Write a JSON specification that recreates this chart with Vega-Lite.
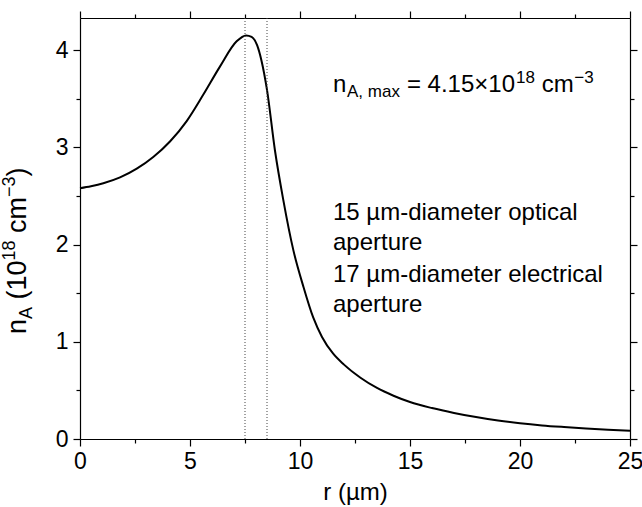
{
  "$schema": "https://vega.github.io/schema/vega-lite/v6.json",
  "width": 550,
  "height": 421,
  "autosize": {"type": "none"},
  "padding": {"left": 80, "top": 18, "right": 12, "bottom": 68},
  "background": "white",
  "config": {
    "view": {"stroke": null},
    "font": "Liberation Sans",
    "axis": {
      "domainColor": "black", "domainWidth": 1.2, "ticks": true, "tickColor": "black", "tickWidth": 1.2, "tickOpacity": 1,
      "labelColor": "black", "labelFont": "Liberation Sans", "labelFontSize": 23,
      "titleFont": "Liberation Sans", "titleFontSize": 24, "titleFontWeight": "normal", "titleColor": "black",
      "grid": false
    }
  },
  "datasets": {
    "curve": [
      {"r": 0, "v": 2.58}, {"r": 0.5, "v": 2.6}, {"r": 1.06, "v": 2.63}, {"r": 1.82, "v": 2.69},
      {"r": 2.58, "v": 2.78}, {"r": 3.33, "v": 2.9}, {"r": 4.09, "v": 3.06}, {"r": 4.85, "v": 3.27},
      {"r": 5.6, "v": 3.54}, {"r": 6.36, "v": 3.83}, {"r": 7.12, "v": 4.09}, {"r": 7.55, "v": 4.15},
      {"r": 7.8, "v": 4.135}, {"r": 8.05, "v": 4.05}, {"r": 8.25, "v": 3.89}, {"r": 8.5, "v": 3.59},
      {"r": 8.86, "v": 2.97}, {"r": 9.24, "v": 2.46}, {"r": 9.7, "v": 1.94}, {"r": 10.15, "v": 1.57},
      {"r": 10.6, "v": 1.25}, {"r": 11.0, "v": 1.05}, {"r": 11.5, "v": 0.88}, {"r": 12.0, "v": 0.765},
      {"r": 12.75, "v": 0.63}, {"r": 13.5, "v": 0.525}, {"r": 14.25, "v": 0.445}, {"r": 15, "v": 0.38},
      {"r": 16, "v": 0.318}, {"r": 17, "v": 0.268}, {"r": 18, "v": 0.226}, {"r": 19, "v": 0.19},
      {"r": 20, "v": 0.162}, {"r": 21, "v": 0.14}, {"r": 22, "v": 0.123}, {"r": 23, "v": 0.108},
      {"r": 24, "v": 0.096}, {"r": 25, "v": 0.086}
    ],
    "apertures": [{"r": 7.5}, {"r": 8.5}],
    "mainText": [
      {"r": 11.5, "v": 3.569, "t": "n"},
      {"r": 14.86, "v": 3.569, "t": "= 4.15×10"},
      {"r": 20.99, "v": 3.569, "t": "cm"}
    ],
    "smallText": [
      {"r": 12.136, "v": 3.517, "t": "A, max"},
      {"r": 19.82, "v": 3.661, "t": "18"},
      {"r": 22.47, "v": 3.661, "t": "−3"}
    ],
    "notes": [
      {"r": 11.5, "v": 2.252, "t": "15 µm-diameter optical\naperture"},
      {"r": 11.5, "v": 1.615, "t": "17 µm-diameter electrical\naperture"}
    ],
    "ytitleMain": [
      {"r": -2.455, "v": 1.08, "t": "n"},
      {"r": -2.455, "v": 1.435, "t": "(10"},
      {"r": -2.455, "v": 2.119, "t": "cm"},
      {"r": -2.455, "v": 2.7, "t": ")"}
    ],
    "ytitleSmall": [
      {"r": -2.18, "v": 1.234, "t": "A"},
      {"r": -2.955, "v": 1.836, "t": "18"},
      {"r": -2.955, "v": 2.489, "t": "−3"}
    ]
  },
  "resolve": {"axis": {"x": "independent", "y": "independent"}},
  "layer": [
    {
      "data": {"name": "curve"},
      "mark": {"type": "line", "color": "black", "strokeWidth": 2, "interpolate": "monotone"},
      "encoding": {
        "x": {"field": "r", "type": "quantitative", "scale": {"domain": [0, 25], "nice": false},
          "axis": {"orient": "bottom", "values": [0, 5, 10, 15, 20, 25], "format": "d",
            "ticks": true, "tickSize": 7, "labelPadding": 4, "title": "r (µm)", "titlePadding": 7, "labelFlush": false}},
        "y": {"field": "v", "type": "quantitative", "scale": {"domain": [0, 4.33], "nice": false},
          "axis": {"orient": "left", "values": [0, 1, 2, 3, 4], "format": "d",
            "ticks": true, "tickSize": 7, "labelPadding": 5, "title": null}}
      }
    },
    {
      "data": {"name": "apertures"},
      "mark": {"type": "rule", "color": "#444", "strokeWidth": 1, "strokeDash": [1, 2]},
      "encoding": {
        "x": {"field": "r", "type": "quantitative", "scale": {"domain": [0, 25], "nice": false},
          "axis": {"orient": "top", "values": [0, 5, 10, 15, 20, 25], "labels": false, "title": null, "ticks": true, "tickSize": 7}}
      }
    },
    {
      "data": {"name": "mainText"},
      "mark": {"type": "text", "fontSize": 24, "align": "left", "baseline": "alphabetic", "color": "black", "font": "Liberation Sans"},
      "encoding": {
        "x": {"field": "r", "type": "quantitative", "scale": {"domain": [0, 25], "nice": false}, "axis": null},
        "y": {"field": "v", "type": "quantitative", "scale": {"domain": [0, 4.33], "nice": false},
          "axis": {"orient": "right", "values": [0, 1, 2, 3, 4], "labels": false, "title": null, "ticks": true, "tickSize": 7}},
        "text": {"field": "t"}
      }
    },
    {
      "data": {"name": "smallText"},
      "mark": {"type": "text", "fontSize": 17, "align": "left", "baseline": "alphabetic", "color": "black", "font": "Liberation Sans"},
      "encoding": {
        "x": {"field": "r", "type": "quantitative", "scale": {"domain": [0, 25], "nice": false},
          "axis": {"orient": "bottom", "values": [2.5, 7.5, 12.5, 17.5, 22.5], "labels": false, "domain": false, "title": null, "ticks": true, "tickSize": 4}},
        "y": {"field": "v", "type": "quantitative", "scale": {"domain": [0, 4.33], "nice": false},
          "axis": {"orient": "left", "values": [0.5, 1.5, 2.5, 3.5], "labels": false, "domain": false, "title": null, "ticks": true, "tickSize": 4}},
        "text": {"field": "t"}
      }
    },
    {
      "data": {"name": "notes"},
      "mark": {"type": "text", "fontSize": 24, "align": "left", "baseline": "alphabetic", "color": "black", "font": "Liberation Sans", "lineBreak": "\n", "lineHeight": 30},
      "encoding": {
        "x": {"field": "r", "type": "quantitative", "scale": {"domain": [0, 25], "nice": false},
          "axis": {"orient": "top", "values": [2.5, 7.5, 12.5, 17.5, 22.5], "labels": false, "domain": false, "title": null, "ticks": true, "tickSize": 4}},
        "y": {"field": "v", "type": "quantitative", "scale": {"domain": [0, 4.33], "nice": false},
          "axis": {"orient": "right", "values": [0.5, 1.5, 2.5, 3.5], "labels": false, "domain": false, "title": null, "ticks": true, "tickSize": 4}},
        "text": {"field": "t"}
      }
    },
    {
      "data": {"name": "ytitleMain"},
      "mark": {"type": "text", "fontSize": 27, "align": "left", "baseline": "alphabetic", "angle": 270, "color": "black", "font": "Liberation Sans"},
      "encoding": {
        "x": {"field": "r", "type": "quantitative", "scale": {"domain": [0, 25], "nice": false}, "axis": null},
        "y": {"field": "v", "type": "quantitative", "scale": {"domain": [0, 4.33], "nice": false}, "axis": null},
        "text": {"field": "t"}
      }
    },
    {
      "data": {"name": "ytitleSmall"},
      "mark": {"type": "text", "fontSize": 18, "align": "left", "baseline": "alphabetic", "angle": 270, "color": "black", "font": "Liberation Sans"},
      "encoding": {
        "x": {"field": "r", "type": "quantitative", "scale": {"domain": [0, 25], "nice": false}, "axis": null},
        "y": {"field": "v", "type": "quantitative", "scale": {"domain": [0, 4.33], "nice": false}, "axis": null},
        "text": {"field": "t"}
      }
    }
  ]
}
